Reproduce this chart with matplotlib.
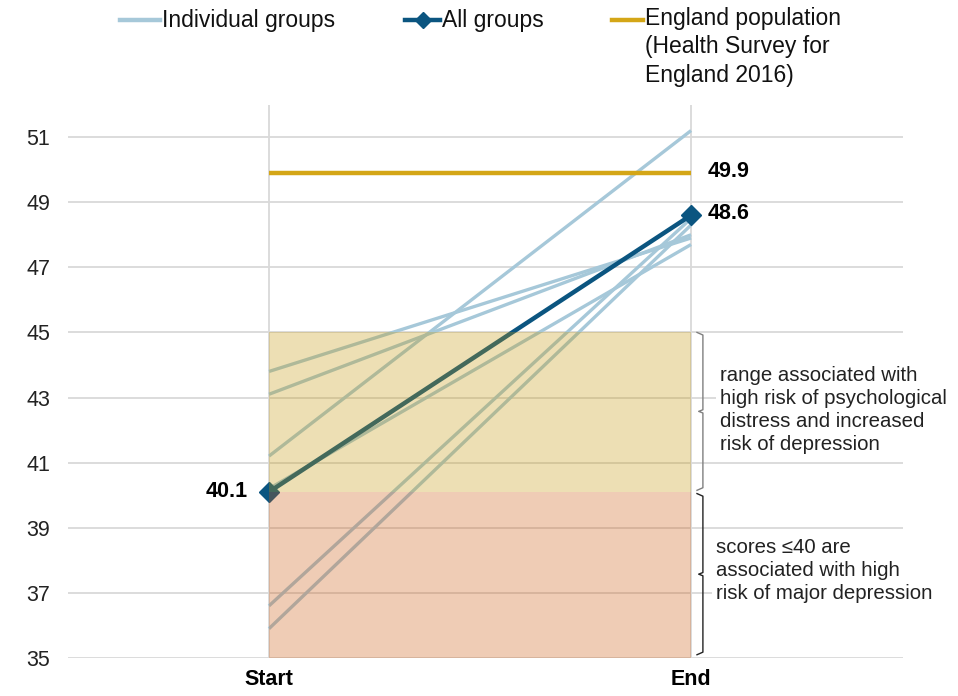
import numpy as np
import matplotlib
matplotlib.use('Agg')
import matplotlib.pyplot as plt
from matplotlib.patches import Rectangle
from matplotlib.lines import Line2D

plt.rcParams['font.family'] = ['Liberation Sans', 'DejaVu Sans']

# data
stages = ['Start', 'End']
group_start = [43.8, 43.1, 41.2, 40.2, 36.6, 35.9]
group_end = [47.9, 48.0, 51.2, 47.7, 48.5, 48.3]
all_groups = [40.1, 48.6]
england = 49.9
yticks = [35, 37, 39, 41, 43, 45, 47, 49, 51]
band_mid = (40.1, 45.0)   # high risk of psychological distress
band_low = (35.0, 40.1)   # high risk of major depression

c_indiv = '#A6C8D9'
c_all = '#0B5580'
c_eng = '#D4A617'
# translucent overlays, drawn over the lines
c_mid = '#C69808'
c_low = '#CD580C'
band_alpha = 0.3
c_grid = '#D9D9D9'

fig = plt.figure(figsize=(9.58, 6.96), dpi=100)
ax = fig.add_axes([68 / 958, 38 / 696, (903 - 68) / 958, (658 - 104.5) / 696])
x = np.arange(len(stages))
ax.set_xlim(-0.476, 1.502)
ax.set_ylim(35, 52)

# grid
for t in yticks:
    ax.axhline(t, color=c_grid, lw=1.3, zorder=1)
for xi in x:
    ax.axvline(xi, color=c_grid, lw=1.3, zorder=1)

for s, e in zip(group_start, group_end):
    ax.plot(x, [s, e], color=c_indiv, lw=2.4, zorder=3, solid_capstyle='butt')

ax.plot(x, [england, england], color=c_eng, lw=3.2, zorder=5, solid_capstyle='butt')
ax.plot(x, all_groups, color=c_all, lw=3.2, marker='D', ms=10, zorder=6)

# bands on top of the lines
for (lo, hi), col in [(band_mid, c_mid), (band_low, c_low)]:
    ax.add_patch(Rectangle((x[0], lo), x[1] - x[0], hi - lo, facecolor=col,
                           alpha=band_alpha, edgecolor='none', zorder=7))

# value labels
ax.text(x[0] - 0.05, all_groups[0], f'{all_groups[0]:.1f}', ha='right', va='center',
        fontsize=15.5, fontweight='bold')
ax.text(x[1] + 0.04, all_groups[1] + 0.05, f'{all_groups[1]:.1f}', ha='left', va='center',
        fontsize=15.5, fontweight='bold')
ax.text(x[1] + 0.04, england + 0.05, f'{england:.1f}', ha='left', va='center',
        fontsize=15.5, fontweight='bold')

# braces on the right
def brace(lo, hi, color):
    x0, x1 = x[1] + 0.014, x[1] + 0.028
    mid = (lo + hi) / 2
    ax.plot([x0, x1, x1, x0 + 0.004, x1, x1, x0],
            [hi, hi - 0.08, mid + 0.05, mid, mid - 0.05, lo + 0.08, lo],
            color=color, lw=1.0, zorder=8, clip_on=False)


brace(band_mid[0] + 0.05, band_mid[1], '#7F7F7F')
brace(band_low[0] + 0.1, band_low[1] - 0.05, '#222222')

box = dict(facecolor='white', edgecolor='none', pad=3)
ax.text(x[1] + 0.069, 42.62,
        'range associated with\nhigh risk of psychological\ndistress and increased\nrisk of depression',
        ha='left', va='center', fontsize=14.7, linespacing=1.27, color='#222222', bbox=box, zorder=9)
ax.text(x[1] + 0.059, 37.7,
        'scores \u226440 are\nassociated with high\nrisk of major depression',
        ha='left', va='center', fontsize=14.7, linespacing=1.27, color='#222222', bbox=box, zorder=9)

# axes styling
ax.set_yticks(yticks)
ax.set_xticks(x)
ax.set_xticklabels(stages, fontsize=15.5, fontweight='bold')
ax.tick_params(axis='y', length=0, pad=30, labelsize=15.5, colors='#222222')
ax.tick_params(axis='x', length=0, pad=8)
for lab in ax.get_yticklabels():
    lab.set_horizontalalignment('left')
for sp in ax.spines.values():
    sp.set_visible(False)

# legend drawn by hand across the top
def fig_xy(px, py):
    return px / 958, 1 - py / 696


def legend_item(px0, px1, label, color, lw, marker=None):
    (a, b), (c, _) = fig_xy(px0, 20), fig_xy(px1, 20)
    fig.add_artist(Line2D([a, c], [b, b], color=color, lw=lw))
    if marker:
        fig.add_artist(Line2D([(a + c) / 2], [b], color=color, marker=marker, ms=8, lw=0))
    tx, ty = fig_xy(px1 + 2, 20)
    fig.text(tx, ty, label, ha='left', va='center', fontsize=16.5, color='#111111')


legend_item(120, 160, 'Individual groups', c_indiv, 3.2)
legend_item(405, 440, 'All groups', c_all, 3.2, marker='D')
fig.text(645 / 958, 1 - 7 / 696, 'England population\n(Health Survey for\nEngland 2016)',
         ha='left', va='top', fontsize=16.5, linespacing=1.3, color='#111111')
(a, b), (c, _) = fig_xy(612, 20), fig_xy(643, 20)
fig.add_artist(Line2D([a, c], [b, b], color=c_eng, lw=3.2))

fig.savefig('out.png', dpi=100)
